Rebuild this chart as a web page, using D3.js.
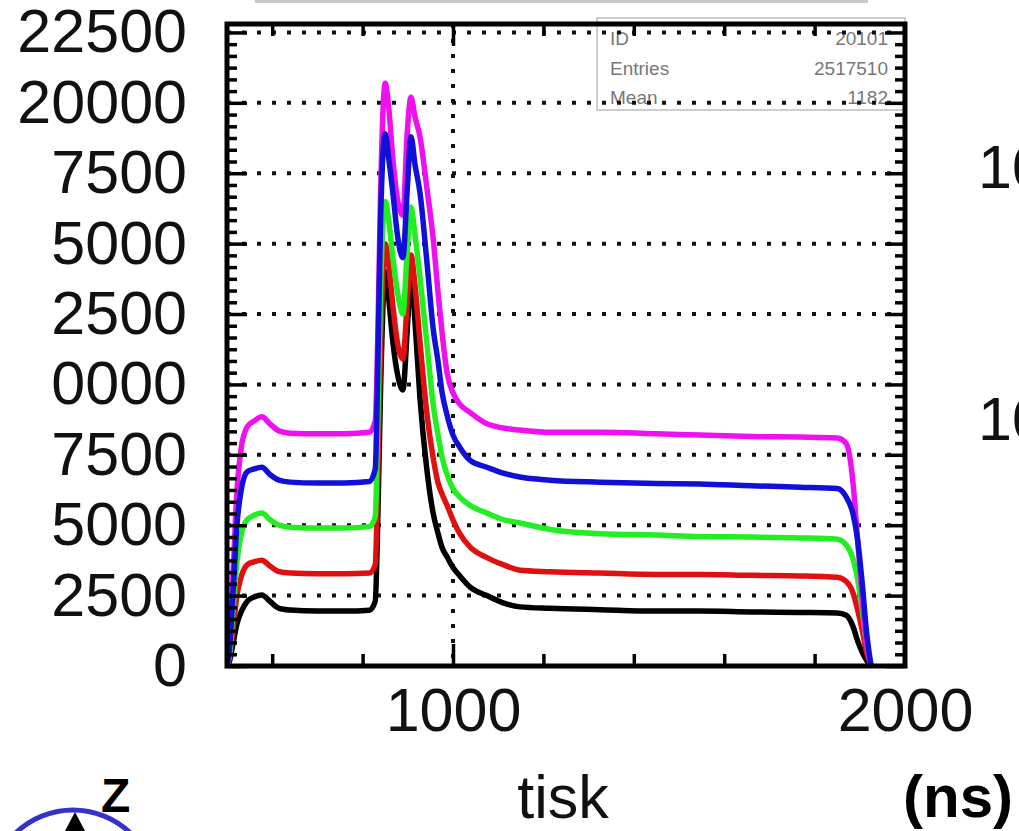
<!DOCTYPE html>
<html><head><meta charset="utf-8">
<script src="https://cdn.jsdelivr.net/npm/d3@7/dist/d3.min.js"></script>
<style>html,body{margin:0;padding:0;background:#fff;}svg{display:block;}</style>
</head><body>
<svg id="c" width="1019" height="831"></svg>
<script>
// ---- data ----
const time = [500,506,514,522,532,545,560,577,595,615,640,700,760,815,828,834,840,850,858,867,878,889,899,907,916,927,942,956,967,976,987,1000,1015,1038,1075,1111,1148,1215,1325,1450,1546,1660,1768,1850,1870,1885,1895,1905,1915,1925];
const black   = [0,200,850,1500,1950,2300,2450,2520,2300,2050,1990,1950,1950,1980,2300,5500,10000,14000,13000,11500,10300,9800,12000,14000,12200,9500,7000,5430,4700,4200,3870,3500,3200,2800,2500,2240,2100,2050,2000,1950,1950,1920,1900,1880,1800,1400,900,500,200,0];
const red     = [0,350,1400,2500,3200,3600,3700,3760,3550,3350,3300,3280,3280,3300,3600,7000,11500,15000,14200,12800,11400,10900,13000,14600,13500,11500,9000,7400,6500,6100,5700,5180,4700,4220,3850,3600,3400,3350,3300,3250,3250,3220,3200,3150,3000,2600,2000,1300,500,0];
const green   = [0,500,2100,3700,4700,5200,5350,5430,5200,5000,4930,4900,4900,4950,5300,9000,13500,16500,15800,14500,13200,12500,14800,16300,15300,13800,11500,9300,8200,7400,6800,6300,6000,5700,5430,5200,5080,4850,4700,4650,4600,4580,4550,4500,4300,3800,3100,2000,800,0];
const magenta = [0,900,3500,6200,7800,8500,8700,8850,8600,8350,8270,8250,8250,8300,8700,12000,17000,20700,19800,18000,16500,16000,19000,20200,19500,18800,17000,15200,13250,11800,10400,9700,9300,9000,8600,8450,8380,8300,8300,8250,8200,8150,8130,8100,7900,6500,4500,2500,800,0];
const blue    = [0,700,2800,5000,6300,6900,7000,7060,6800,6600,6530,6500,6500,6550,7000,11000,16000,18900,18000,16800,15200,14500,17000,18800,17800,16800,14400,12000,10800,9700,8900,8200,7770,7300,7060,6850,6710,6600,6530,6480,6460,6400,6350,6300,6000,5400,4500,3000,1200,0];
const seriesNames = ["black","red","green","magenta","blue"];
const seriesColors = ["#000000","#e01010","#22ee22","#ee10ee","#1010d8"];

const yTickValues = [0,2500,5000,7500,10000,12500,15000,17500,20000,22500];
const yTickLabels = ["0","2500","5000","7500","0000","2500","5000","7500","20000","22500"];
const xTickValues = [1000,2000];
const xTickLabels = ["1000","2000"];
const xMinorTicks = [600,800,1200,1400,1600,1800];
const statsLabels = ["ID","Entries","Mean"];
const statsValues = ["20101","2517510","1182"];
const xTitle = "tisk";
const unitText = "(ns)";
const axisMarker = "Z";
const sideLabels = ["10","10"];

// ---- layout ----
const svg = d3.select("#c");
const L = 227, R = 905, T = 24, B = 666;
const x = d3.scaleLinear().domain([500,2000]).range([L,R]);
const y = d3.scaleLinear().domain([0,22800]).range([B,T]);
const FONT = "'Liberation Sans', Arial, Helvetica, sans-serif";

// faint title-box edge at top
svg.append("line").attr("x1",255).attr("x2",868).attr("y1",1.5).attr("y2",1.5)
  .attr("stroke","#c8c8c8").attr("stroke-width",3);

// stats box
const sb = svg.append("g");
sb.append("rect").attr("x",597).attr("y",18).attr("width",R-597).attr("height",92)
  .attr("fill","#fff").attr("stroke","#bdbdbd").attr("stroke-width",1.5);
statsLabels.forEach((s,i)=>{
  sb.append("text").attr("x",610).attr("y",45+i*29.5).text(s)
    .attr("font-family",FONT).attr("font-size",19).attr("fill","#777");
  sb.append("text").attr("x",888).attr("y",45+i*29.5).attr("text-anchor","end").text(statsValues[i])
    .attr("font-family",FONT).attr("font-size",19).attr("fill","#777");
});

// gridlines
const grid = svg.append("g").attr("stroke","#111").attr("stroke-width",4).attr("stroke-dasharray","4 11");
grid.selectAll("line.h").data(yTickValues.filter(v=>v>0)).join("line")
  .attr("x1",L).attr("x2",R).attr("y1",d=>y(d)).attr("y2",d=>y(d));
grid.selectAll("line.v").data([1000]).join("line").attr("class","v")
  .attr("x1",d=>x(d)).attr("x2",d=>x(d)).attr("y1",T).attr("y2",B);

// curves
svg.append("clipPath").attr("id","pc").append("rect")
  .attr("x",L).attr("y",T).attr("width",R-L).attr("height",B-T);
const line = d3.line().x((d,i)=>x(time[i])).y(d=>y(d)).curve(d3.curveMonotoneX);
const allSeries = [black,red,green,magenta,blue];
svg.append("g").attr("clip-path","url(#pc)").selectAll("path").data(allSeries).join("path")
  .attr("d",d=>line(d)).attr("fill","none")
  .attr("stroke",(d,i)=>seriesColors[i]).attr("stroke-width",5.5)
  .attr("stroke-linejoin","round");

// minor y ticks (6 subdivisions)
const yMinor = [];
for (let k=0;k<=22800;k+=2500/6){ const v=Math.round(k); if(!yTickValues.includes(v)) yMinor.push(k); }

// axes: inner ticks
const tickStyle = g => { g.select(".domain").remove(); g.selectAll("line").attr("stroke","#000").attr("stroke-width",3.5); g.selectAll("text").remove(); };
svg.append("g").attr("transform",`translate(${L},0)`).call(d3.axisRight(y).tickValues(yTickValues).tickSize(20)).call(tickStyle);
svg.append("g").attr("transform",`translate(${L},0)`).call(d3.axisRight(y).tickValues(yMinor).tickSize(10)).call(tickStyle);
svg.append("g").attr("transform",`translate(${R},0)`).call(d3.axisLeft(y).tickValues(yTickValues).tickSize(20)).call(tickStyle);
svg.append("g").attr("transform",`translate(${R},0)`).call(d3.axisLeft(y).tickValues(yMinor).tickSize(10)).call(tickStyle);
svg.append("g").attr("transform",`translate(0,${B})`).call(d3.axisTop(x).tickValues([1000]).tickSize(22)).call(tickStyle);
svg.append("g").attr("transform",`translate(0,${B})`).call(d3.axisTop(x).tickValues(xMinorTicks).tickSize(12)).call(tickStyle);
svg.append("g").attr("transform",`translate(0,${T})`).call(d3.axisBottom(x).tickValues([1000]).tickSize(22)).call(tickStyle);
svg.append("g").attr("transform",`translate(0,${T})`).call(d3.axisBottom(x).tickValues(xMinorTicks).tickSize(12)).call(tickStyle);

// frame
svg.append("rect").attr("x",L).attr("y",T).attr("width",R-L).attr("height",B-T)
  .attr("fill","none").attr("stroke","#000").attr("stroke-width",5);

// labels
const labStyle = g => { g.select(".domain").remove(); g.selectAll("line").remove();
  g.selectAll("text").attr("font-family",FONT).attr("font-size",61).attr("fill","#111"); };
svg.append("g").attr("transform",`translate(${L},0)`)
  .call(d3.axisLeft(y).tickValues(yTickValues).tickFormat((d,i)=>yTickLabels[i]).tickSize(0).tickPadding(40))
  .call(labStyle);
svg.append("g").attr("transform",`translate(0,${B})`)
  .call(d3.axisBottom(x).tickValues(xTickValues).tickFormat((d,i)=>xTickLabels[i]).tickSize(0).tickPadding(22))
  .call(labStyle);

svg.append("text").attr("x",563).attr("y",818).attr("text-anchor","middle").text(xTitle)
  .attr("font-family",FONT).attr("font-size",61).attr("fill","#111");
svg.append("text").attr("x",903).attr("y",817).text(unitText)
  .attr("font-family",FONT).attr("font-weight","bold").attr("font-size",60).attr("fill","#000");
svg.append("text").attr("x",101).attr("y",812).text(axisMarker)
  .attr("font-family",FONT).attr("font-weight","bold").attr("font-size",48).attr("fill","#000");
sideLabels.forEach((s,i)=>{
  svg.append("text").attr("x",978).attr("y",[188,440][i]).text(s)
    .attr("font-family",FONT).attr("font-size",61).attr("fill","#111");
});

// compass glyph bottom-left
svg.append("circle").attr("cx",73).attr("cy",893).attr("r",83)
  .attr("fill","none").attr("stroke","#3333cc").attr("stroke-width",5);
svg.append("path").attr("d","M75,812 L65,831 L85,831 Z").attr("fill","#000");
</script>
</body></html>
